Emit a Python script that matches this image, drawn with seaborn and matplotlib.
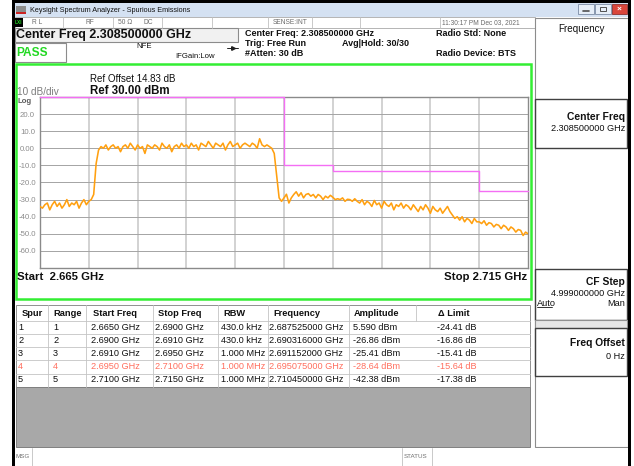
import numpy as np
import pandas as pd
import matplotlib.pyplot as plt
from matplotlib.patches import Rectangle
import seaborn as sns

W, H = 634, 466

# sweep: 2.665 - 2.715 GHz, 201 points (dBm)
f_start, f_stop = 2.665, 2.715
trace_dbm = [
    -34, -35, -33, -32, -36, -33, -31, -34, -32, -35, -33, -30, -34, -32, -33, -31, -35, -32, -30, -33, -31, -30,
    -27, -9, -1,
    1, 0, 2, -1, 1, 2, 0, 1, -2, 1, 2, 0, 3, 1, -1, 2, 0, 1, -3, 2, 1, 0, 2, 1, -1, 3, 1, 0, 2, -2, 1, 2, 0, 3, 1,
    2, 0, 3, 1, 2, -1, 3, 2, 1, 4, 2, 0, 3, 2, 1, 3, -1, 2, 4, 1, 2, 3, 0, 2, 3, 2, 1, 3, 2, 0, 5.59, 2, 1, 2, 1,
    0, -3, -16, -29,
    -31, -29, -26.86, -32, -29, -27, -25.41, -28, -26, -29, -27, -26.5, -28, -27, -29, -27, -28, -30, -28, -29,
    -27.5, -28.64, -30, -29.5, -30, -29, -31, -29.8, -30, -31, -29.5, -31,
    -32, -30, -33, -31, -32, -34, -30.5, -33, -32, -35, -31, -33, -34, -32, -36, -33, -34, -32, -35, -33,
    -34, -36, -33, -35, -37, -34, -36, -33, -35, -38, -34, -36, -37, -35, -38, -36, -34, -37,
    -39, -41, -40,
    -42, -40, -43, -41, -42, -44, -41, -43, -43,
    -44, -42.38, -45, -43.5, -44, -46, -44.5, -45, -47, -45, -46, -48, -46, -47, -49, -47.5, -48, -51, -49, -50,
]

# spur table
spur_no = [1, 2, 3, 4, 5]
range_start = [2.6650, 2.6900, 2.6910, 2.6950, 2.7100]
range_stop = [2.6900, 2.6910, 2.6950, 2.7100, 2.7150]
rbw = ['430.0 kHz', '430.0 kHz', '1.000 MHz', '1.000 MHz', '1.000 MHz']
peak_freq = [2.687525, 2.690316, 2.691152, 2.695075, 2.710450]
peak_amp = [5.590, -26.86, -25.41, -28.64, -42.38]
delta_limit = [-24.41, -16.86, -15.41, -15.64, -17.38]
fail_row = 3  # drawn in red on the screen

y_ticks = [20, 10, 0, -10, -20, -30, -40, -50, -60]

sns.set_style('white')
plt.rcParams['font.family'] = ['Liberation Sans', 'DejaVu Sans']

fig = plt.figure(figsize=(W / 100, H / 100), dpi=100)
bg = fig.add_axes([0, 0, 1, 1])
bg.set_xlim(0, W)
bg.set_ylim(H, 0)
bg.axis('off')


def box(x0, y0, x1, y1, fc='none', ec='none', lw=0.6, z=1):
    bg.add_patch(Rectangle((x0, y0), x1 - x0, y1 - y0, facecolor=fc,
                           edgecolor=ec, linewidth=lw, zorder=z))


def txt(x, y, s, size, bold=False, color='#101010', ha='left'):
    bg.text(x, y, s, fontsize=size, fontweight='bold' if bold else 'normal',
            color=color, ha=ha, va='center', zorder=5)


def vline(x, y0, y1, color='#b8b8b8', lw=0.6):
    bg.plot([x, x], [y0, y1], color=color, lw=lw, zorder=3)


def hline(y, x0, x1, color='#b8b8b8', lw=0.6):
    bg.plot([x0, x1], [y, y], color=color, lw=lw, zorder=3)


# window frame + title bar
box(12, 0, 14.5, H, fc='black', z=6)
box(12, 0, 631, 3, fc='black', z=6)
box(628, 0, 631, H, fc='black', z=6)
box(14, 3, 628, 17, fc='#d4e1f2')
box(16, 6, 26, 14, fc='#8c8c8c')
box(16, 12, 26, 14, fc='#cc2222')
txt(30, 10, 'Keysight Spectrum Analyzer - Spurious Emissions', 5.2)
box(578, 4, 594, 13.5, fc='#e6eef8', ec='#7c8ca4')
box(595, 4, 611, 13.5, fc='#e6eef8', ec='#7c8ca4')
box(612, 4, 627, 13.5, fc='#d9463b', ec='#8a3030')
hline(10.5, 583, 589, color='#505050', lw=1.2)
box(600, 7, 606, 11, ec='#505050', lw=0.7, z=4)
txt(619.5, 8.8, '×', 6, bold=True, color='white', ha='center')

# status row
box(14.5, 17, 535, 27.5, fc='white', ec='#a8a8a8')
box(14.5, 17.5, 23, 27, fc='black')
txt(18.8, 22.2, 'LXI', 3.4, bold=True, color='#22dd22', ha='center')
for sx in [63, 113, 162, 212, 268, 312, 360, 440]:
    vline(sx, 17, 27.5, color='#c0c0c0')
for sx, s in [(32, 'R L'), (85, 'RF'), (118, '50 Ω'), (144, 'DC'),
              (273, 'SENSE:INT'), (442, '11:30:17 PM Dec 03, 2021')]:
    txt(sx, 22.3, s, 4.8, color='#6c6c6c')

# measurement header
box(14.5, 28, 238, 42, fc='#f1f1f1', ec='#8c8c8c', lw=0.8)
txt(16, 35.3, 'Center Freq 2.308500000 GHz', 9, bold=True)
box(14.5, 43, 66, 62, fc='white', ec='#8c8c8c', lw=0.8)
txt(16, 52.5, 'PASS', 8.6, bold=True, color='#22d822')
txt(136, 46.5, 'NFE', 5.6)
txt(175, 56.5, 'IFGain:Low', 5.6)
hline(48, 227, 238, color='#202020', lw=0.7)
bg.plot(233, 48, marker='>', ms=2.6, color='#202020', zorder=4)
txt(245, 33.5, 'Center Freq: 2.308500000 GHz', 6.5, bold=True)
txt(245, 43.5, 'Trig: Free Run', 6.5, bold=True)
txt(245, 53.5, '#Atten: 30 dB', 6.5, bold=True)
txt(342, 43.5, 'Avg|Hold: 30/30', 6.5, bold=True)
txt(436, 33.5, 'Radio Std: None', 6.5, bold=True)
txt(436, 53.5, 'Radio Device: BTS', 6.5, bold=True)

# green trace window
box(15.5, 64, 531, 299, fc='white', ec='#33ee33', lw=1.8)
txt(90, 79, 'Ref Offset 14.83 dB', 7)
txt(90, 90.5, 'Ref 30.00 dBm', 8.3, bold=True)
txt(17, 92, '10 dB/div', 7.2, color='#7c7c7c')
txt(17, 101.5, 'Log', 5.6, bold=True, color='#5c5c5c')
txt(17, 277, 'Start  2.665 GHz', 8.2, bold=True)
txt(527, 277, 'Stop 2.715 GHz', 8.2, bold=True, ha='right')

# softkey panel
box(535, 18, 628, 447, fc='white', ec='#8c8c8c', lw=0.8)
txt(581.5, 29, 'Frequency', 7.1, ha='center')
box(535, 99, 627, 148, ec='#404040', lw=1.0, z=2)
txt(625, 116.5, 'Center Freq', 7.4, bold=True, ha='right')
txt(625, 128.5, '2.308500000 GHz', 6.6, ha='right')
box(535, 269, 627, 320, ec='#404040', lw=1.0, z=2)
txt(625, 282, 'CF Step', 7.4, bold=True, ha='right')
txt(625, 293.5, '4.999000000 GHz', 6.6, ha='right')
txt(537, 303, 'Auto', 6.6)
hline(307, 537, 552, color='#101010', lw=0.6)
txt(625, 303, 'Man', 6.6, ha='right')
box(535, 320, 627, 328, fc='#e6e6e6', ec='#909090', lw=0.8, z=2)
box(535, 328, 627, 376, ec='#404040', lw=1.0, z=2)
txt(625, 343.5, 'Freq Offset', 7.4, bold=True, ha='right')
txt(625, 356.5, '0 Hz', 6.6, ha='right')

# spur table
box(16, 305, 530, 387, fc='white', ec='#909090', lw=0.7)
box(16, 387, 530, 447, fc='#a8a8a8', ec='#808080', lw=0.7)
row_lines = [321, 334, 347, 360, 373.5]
for ry in row_lines:
    hline(ry, 16, 530, color='#c4c4c4')
for cx in [48, 85.6, 153, 217.5, 268, 349]:
    vline(cx, 305, 387, color='#c4c4c4')
vline(416, 305, 321, color='#c4c4c4')

headers = ['Spur', 'Range', 'Start Freq', 'Stop Freq', 'RBW', 'Frequency', 'Amplitude', 'Δ Limit']
head_x = [22, 53, 93, 158, 223, 273, 354, 438]
cell_x = [18, 53, 91, 155, 221, 269, 353, 437]
row_y = [327.5, 340.5, 353.5, 366.5, 380]
for hx, h in zip(head_x, headers):
    txt(hx, 313, h, 6.7, bold=True)

table = pd.DataFrame({
    'spur': [str(n) for n in spur_no],
    'range': [str(n) for n in spur_no],
    'start': [f'{v:.4f} GHz' for v in range_start],
    'stop': [f'{v:.4f} GHz' for v in range_stop],
    'rbw': rbw,
    'freq': [f'{v:.9f} GHz' for v in peak_freq],
    'amp': [f'{v:#.4g} dBm' for v in peak_amp],
    'dlim': [f'{v:.2f} dB' for v in delta_limit],
})
for r, (ry, row) in enumerate(zip(row_y, table.itertuples(index=False))):
    col = '#ff6f5e' if r == fail_row else '#101010'
    for cx, val in zip(cell_x, row):
        txt(cx, ry, val, 6.6, color=col)

# message bar
box(14.5, 448, 628, 466, fc='white')
for mx in [32, 402, 432]:
    vline(mx, 448, 466, color='#c0c0c0')
txt(15.5, 457, 'MSG', 4.5, color='#707070')
txt(404, 457, 'STATUS', 4.5, color='#707070')

# ---- trace plot ----
left, right, top, bottom = 40, 528, 97, 268
ax = fig.add_axes([left / W, 1 - bottom / H, (right - left) / W, (bottom - top) / H])
ax.set_zorder(10)
ax.set_facecolor('white')

sweep = pd.DataFrame({'freq': np.linspace(f_start, f_stop, len(trace_dbm)), 'dbm': trace_dbm})
limit_db = [a - d for a, d in zip(peak_amp, delta_limit)]
limit = pd.DataFrame({'freq': range_start + [range_stop[-1]], 'db': limit_db + [limit_db[-1]]})

sns.lineplot(data=sweep, x='freq', y='dbm', color='#ffa010', linewidth=1.15,
             estimator=None, ax=ax, zorder=3)
sns.lineplot(data=limit, x='freq', y='db', color='#f46ef4', linewidth=1.0,
             drawstyle='steps-post', estimator=None, ax=ax, zorder=4, clip_on=False)

ax.set_xlim(f_start, f_stop)
ax.set_ylim(-70, 30)
ax.set_xticks(np.linspace(f_start, f_stop, 11)[1:-1])
ax.set_xticklabels([])
ax.set_yticks(y_ticks)
ax.set_yticklabels(['0.00' if v == 0 else f'{v:.1f}' for v in y_ticks])
ax.tick_params(axis='both', length=0)
ax.tick_params(axis='y', pad=9, labelsize=5.6, labelcolor='#8c8c8c')
for lbl in ax.get_yticklabels():
    lbl.set_horizontalalignment('center')
ax.set_xlabel('')
ax.set_ylabel('')
ax.set_axisbelow(True)
ax.grid(axis='x', color='#d2d2d2', linewidth=1.4)
ax.grid(axis='y', color='#a4a4a4', linewidth=0.7)
for sp in ax.spines.values():
    sp.set_color('#8a8a8a')
    sp.set_linewidth(1.0)

fig.savefig('out.png', dpi=100)
